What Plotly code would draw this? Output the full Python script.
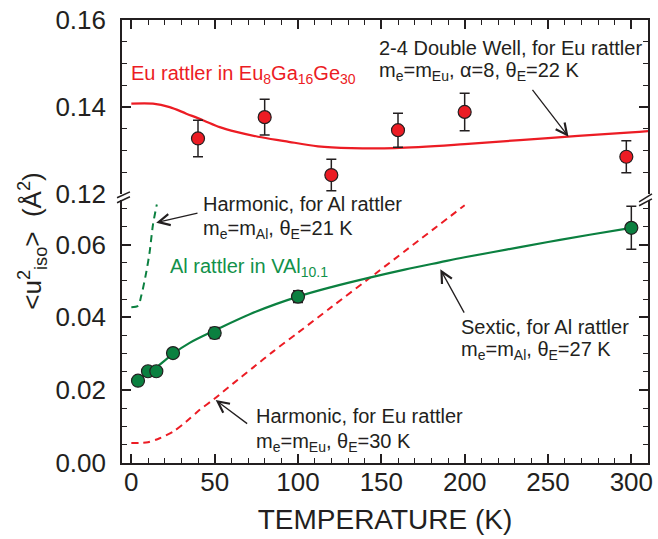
import plotly.graph_objects as go

# ---------------- data ----------------
# Eu rattler in Eu8Ga16Ge30 (upper panel)
eu_T = [40, 80, 120, 160, 200, 297]
eu_u2 = [0.1328, 0.1377, 0.1244, 0.1347, 0.1389, 0.1286]
eu_err = [0.0042, 0.0041, 0.0036, 0.0039, 0.0043, 0.0037]

# 2-4 double well model for Eu rattler
dw_T = [0, 13, 23, 33, 43, 53, 63, 76, 92, 112, 132, 158, 200, 250, 300, 310]
dw_u2 = [0.1408, 0.1408, 0.1400, 0.1385, 0.1370, 0.1354, 0.1343, 0.1332,
         0.1322, 0.1310, 0.1306, 0.1306, 0.1315, 0.1329, 0.1342, 0.1345]

# Al rattler in VAl10.1 (lower panel)
al_T = [4, 10, 15, 25, 50, 100, 300]
al_u2 = [0.0226, 0.0252, 0.0252, 0.0302, 0.0357, 0.0457, 0.0646]
al_err = [0.0006, 0.0006, 0.0006, 0.0008, 0.0015, 0.0016, 0.0059]

# Sextic model for Al rattler
sx_T = [0, 5, 10, 15, 25, 35, 50, 75, 100, 120, 143, 164, 185, 200, 225, 250, 275, 300]
sx_u2 = [0.0229, 0.0235, 0.0245, 0.0262, 0.0300, 0.0330, 0.0364, 0.0416, 0.0457,
         0.0483, 0.0509, 0.0531, 0.0551, 0.0565, 0.0586, 0.0607, 0.0627, 0.0646]

# Harmonic model for Eu rattler (red dashed)
he_T = [0, 5, 10, 17, 25, 33, 41, 50, 61, 73, 85, 100, 120, 143, 200]
he_u2 = [0.0055, 0.0055, 0.0057, 0.0068, 0.0086, 0.0114, 0.0146, 0.0177,
         0.0218, 0.0262, 0.0306, 0.0358, 0.0428, 0.0508, 0.0708]

# Harmonic model for Al rattler (green dashed)
ha_T = [0, 4, 6, 9, 11, 13, 15.3]
ha_u2 = [0.0428, 0.0432, 0.0460, 0.0525, 0.0580, 0.0655, 0.0710]

x_ticks = [0, 50, 100, 150, 200, 250, 300]
y_lo_ticks = [0.00, 0.02, 0.04, 0.06]
y_hi_ticks = [0.12, 0.14, 0.16]

# ---------------- style ----------------
RED = "#ec1c24"
GREEN = "#0b8040"
GREEN_TXT = "#12914a"
INK = "#231f20"
FONT = "Liberation Sans, Arial, Helvetica, sans-serif"

fig = go.Figure()

# lower panel
fig.add_trace(go.Scatter(x=he_T, y=he_u2, mode="lines", xaxis="x", yaxis="y",
                         line=dict(color=RED, width=2, dash="7px,5px", shape="spline", smoothing=0.8),
                         showlegend=False))
fig.add_trace(go.Scatter(x=ha_T, y=ha_u2, mode="lines", xaxis="x", yaxis="y",
                         line=dict(color=GREEN, width=2, dash="7px,5px", shape="spline", smoothing=0.8),
                         showlegend=False))
fig.add_trace(go.Scatter(x=sx_T, y=sx_u2, mode="lines", xaxis="x", yaxis="y",
                         line=dict(color=GREEN, width=2.2, shape="spline", smoothing=1.0),
                         showlegend=False))
fig.add_trace(go.Scatter(x=al_T, y=al_u2, mode="markers", xaxis="x", yaxis="y",
                         marker=dict(color=GREEN, size=13, line=dict(color=INK, width=1.2)),
                         error_y=dict(type="data", array=al_err, color=INK, thickness=1.5, width=5),
                         showlegend=False))
# upper panel
fig.add_trace(go.Scatter(x=dw_T, y=dw_u2, mode="lines", xaxis="x2", yaxis="y2",
                         line=dict(color=RED, width=2.2, shape="spline", smoothing=1.0),
                         showlegend=False))
fig.add_trace(go.Scatter(x=eu_T, y=eu_u2, mode="markers", xaxis="x2", yaxis="y2",
                         marker=dict(color=RED, size=13, line=dict(color=INK, width=1.2)),
                         error_y=dict(type="data", array=eu_err, color=INK, thickness=1.5, width=5),
                         showlegend=False))

axis_common = dict(showline=True, linecolor=INK, linewidth=1.6, showgrid=False, zeroline=False,
                   ticks="inside", ticklen=9, tickwidth=1.5, tickcolor=INK,
                   tickfont=dict(family=FONT, size=26, color=INK))

XR = [-5.6, 310]
fig.update_layout(
    width=658, height=539,
    margin=dict(l=122, r=5, t=17, b=76),
    paper_bgcolor="white", plot_bgcolor="white",
    font=dict(family=FONT, color=INK),
    xaxis=dict(**axis_common, range=XR, anchor="y", tickvals=x_ticks,
               minor=dict(dtick=10, tick0=0, ticks="inside", ticklen=5, tickwidth=1.3, tickcolor=INK),
               ticklabelstandoff=-5,
               title=dict(text="TEMPERATURE (K)", font=dict(family=FONT, size=28, color=INK), standoff=13)),
    xaxis2=dict(**axis_common, range=XR, anchor="y2", side="top", matches="x", tickvals=x_ticks,
                showticklabels=False,
                minor=dict(dtick=10, tick0=0, ticks="inside", ticklen=5, tickwidth=1.3, tickcolor=INK)),
    yaxis=dict(**axis_common, domain=[0, 0.5942], range=[0, 0.0723], tickvals=y_lo_ticks,
               tickformat=".2f", mirror="ticks", anchor="x", ticklabelstandoff=9,
               minor=dict(dtick=0.005, tick0=0, ticks="inside", ticklen=5, tickwidth=1.3, tickcolor=INK)),
    yaxis2=dict(**axis_common, domain=[0.6067, 1], range=[0.11999, 0.16001], tickvals=y_hi_ticks,
                tickformat=".2f", mirror="ticks", anchor="x2", ticklabelstandoff=9,
                minor=dict(dtick=0.005, tick0=0, ticks="inside", ticklen=5, tickwidth=1.3, tickcolor=INK)),
)

ann = []
def label(x, y, text, yref="y", color=INK, xref="x"):
    ann.append(dict(x=x, y=y, xref=xref, yref=yref, text=text, showarrow=False,
                    xanchor="left", yanchor="middle", borderpad=0,
                    font=dict(family=FONT, size=20, color=color)))

def arrow(xh, yh, xt, yt, yref="y", xref="x"):
    ann.append(dict(x=xh, y=yh, ax=xt, ay=yt, xref=xref, yref=yref, axref=xref, ayref=yref,
                    text="", showarrow=True, arrowhead=5, arrowsize=1.7, arrowwidth=1.3,
                    arrowcolor=INK))

label(-1, 0.1476, "Eu rattler in Eu<sub>8</sub>Ga<sub>16</sub>Ge<sub>30</sub>", yref="y2", color=RED, xref="x2")
label(147.7, 0.1536, "2-4 Double Well, for Eu rattler", yref="y2", xref="x2")
label(147.7, 0.1481, "m<sub>e</sub>=m<sub>Eu</sub>, α=8, θ<sub>E</sub>=22 K", yref="y2", xref="x2")
arrow(262.3, 0.1332, 240, 0.1443, yref="y2", xref="x2")

label(42.6, 0.0710, "Harmonic, for Al rattler")
label(42.6, 0.0642, "m<sub>e</sub>=m<sub>Al</sub>, θ<sub>E</sub>=21 K")
arrow(14.9, 0.0660, 40.6, 0.0687)

label(22.8, 0.0537, "Al rattler in VAl<sub>10.1</sub>", color=GREEN_TXT)

label(197.3, 0.0374, "Sextic, for Al rattler")
label(197.3, 0.0310, "m<sub>e</sub>=m<sub>Al</sub>, θ<sub>E</sub>=27 K")
arrow(185.4, 0.0532, 200.2, 0.0409)

label(74.4, 0.0128, "Harmonic, for Eu rattler")
label(74.4, 0.0056, "m<sub>e</sub>=m<sub>Eu</sub>, θ<sub>E</sub>=30 K")
arrow(50.6, 0.0173, 70.4, 0.0105)

# y-axis title
ann.append(dict(x=-0.170, y=0.5007, xref="paper", yref="paper", showarrow=False,
                text="&lt;u<sup>2</sup><sub>iso</sub>&gt;  (Å<sup>2</sup>)", textangle=-90,
                xanchor="center", yanchor="middle",
                font=dict(family=FONT, size=26, color=INK)))
fig.update_layout(annotations=ann)

# axis break marks (paper coordinates)
def px2paper(px, py):
    return (px - 122) / 531.0, (463 - py) / 446.0

breaks = [((117, 196), (130, 190)), ((117, 201), (130, 195)),
          ((644, 200), (657, 192)), ((644, 204), (657, 197))]
shapes = []
for (p0, p1) in breaks:
    x0, y0 = px2paper(*p0)
    x1, y1 = px2paper(*p1)
    shapes.append(dict(type="line", xref="paper", yref="paper", x0=x0, y0=y0, x1=x1, y1=y1,
                       line=dict(color=INK, width=1.5)))
fig.update_layout(shapes=shapes)

fig.write_html("out.html", config={"displayModeBar": False},
               post_script="document.body.style.margin='0px';document.body.style.overflow='hidden';")
